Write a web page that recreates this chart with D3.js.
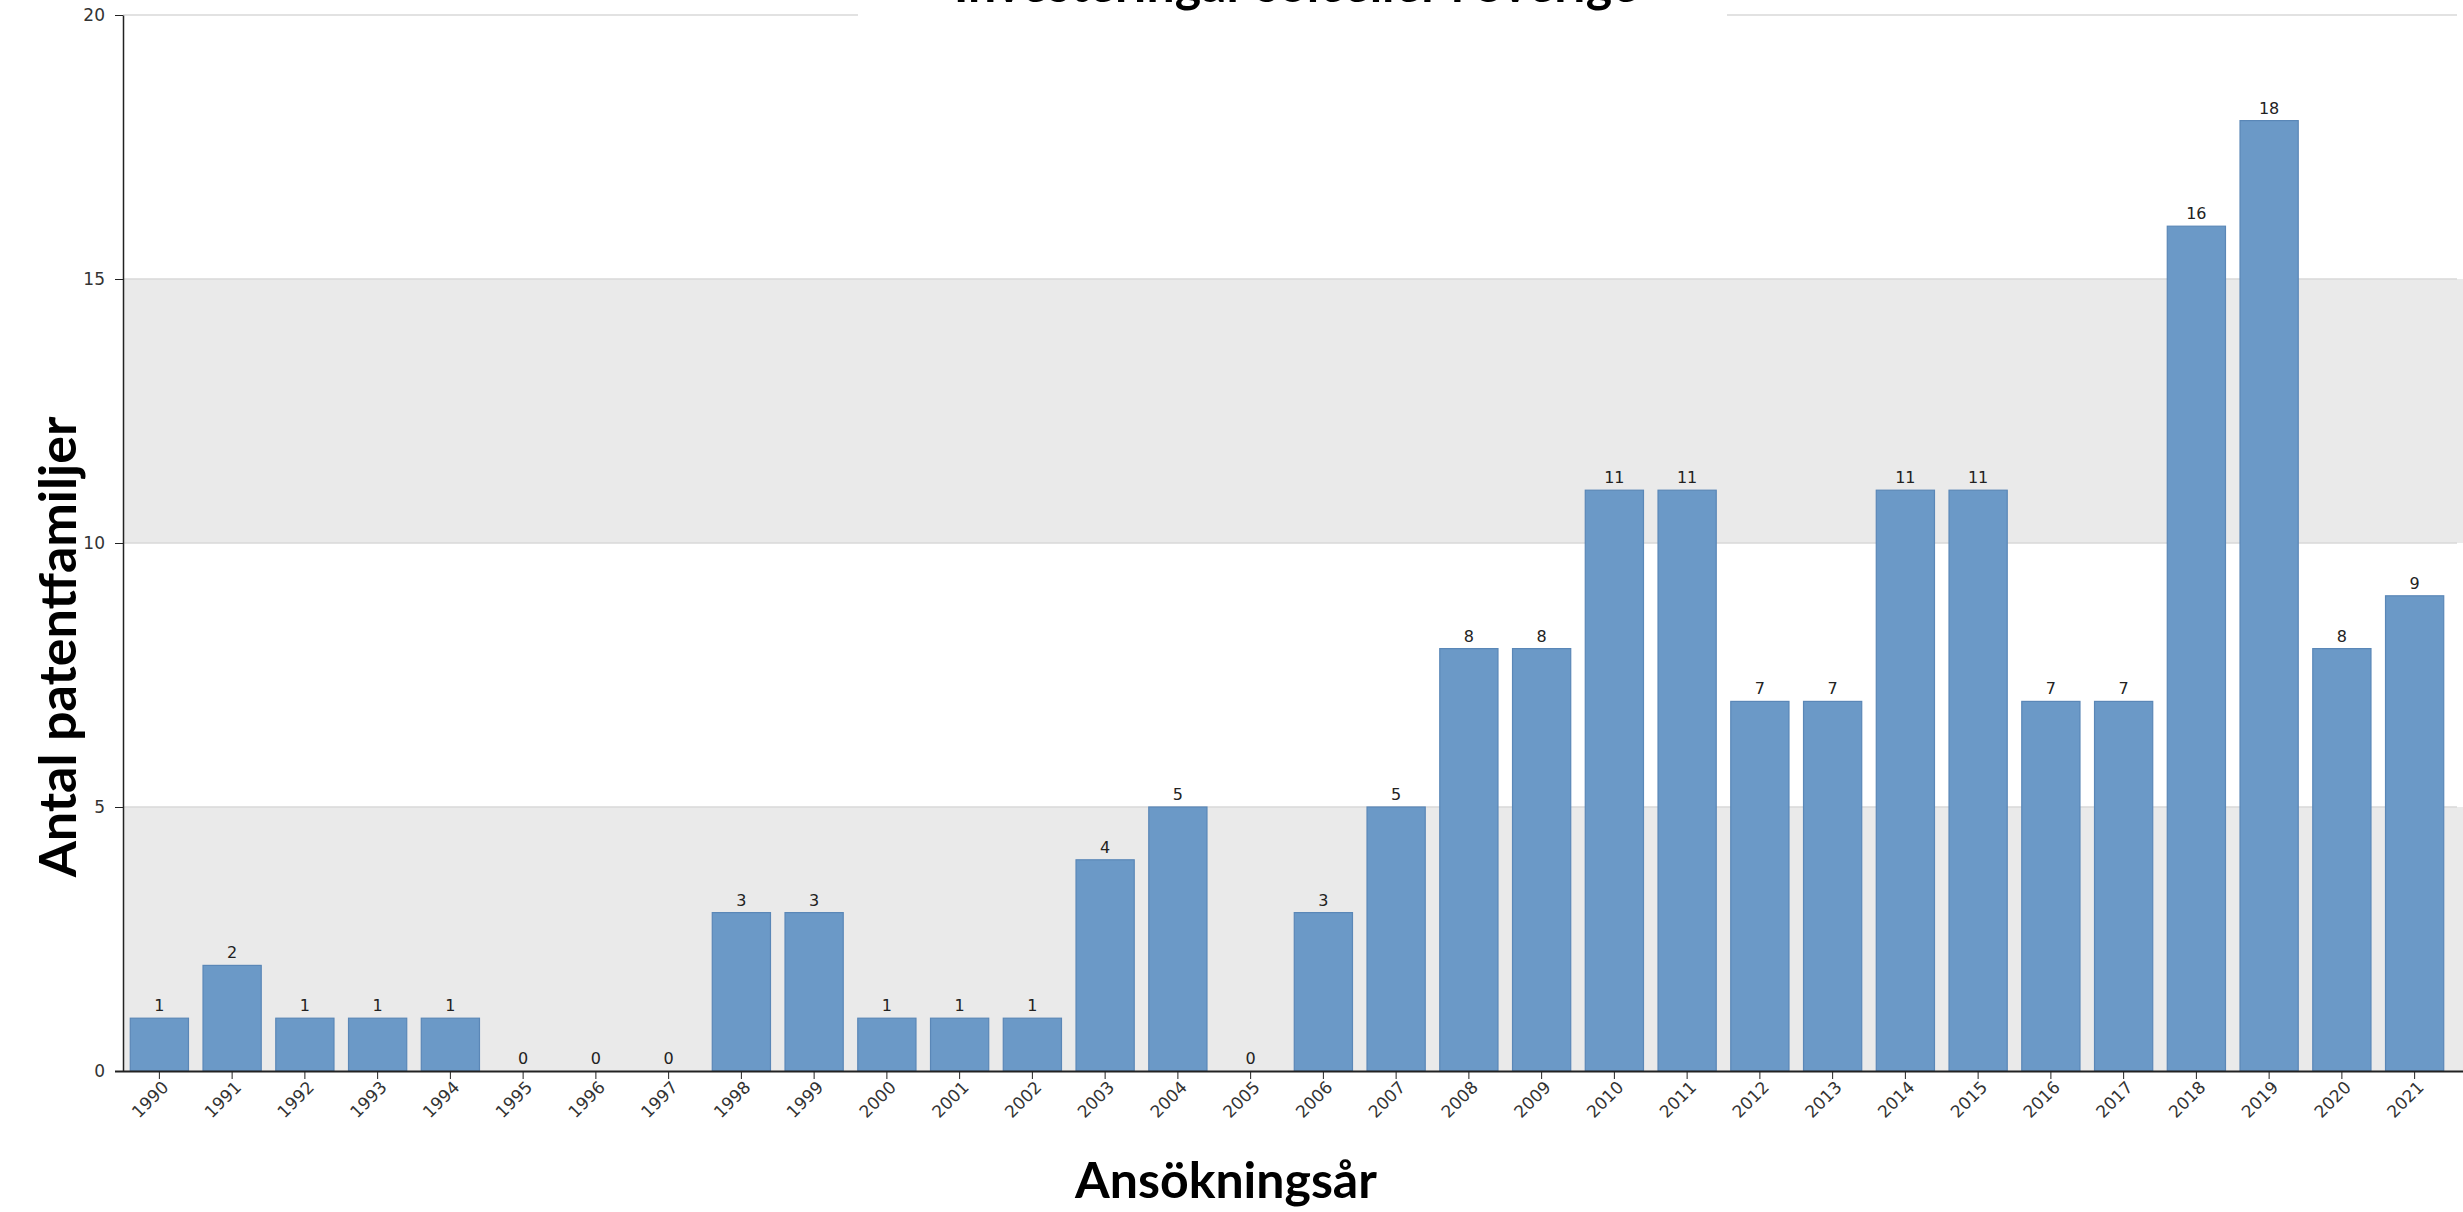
<!DOCTYPE html>
<html>
<head>
<meta charset="utf-8">
<script src="https://cdn.jsdelivr.net/npm/d3@7"></script>
<style>
  body { margin: 0; background: #fff; }
  .axis text { font-family: "DejaVu Sans", Verdana, sans-serif; font-size: 17px; fill: #333; }
  .axis path, .axis line { stroke: #222; }
  .title { font-family: Lato, sans-serif; font-weight: bold; font-size: 50px; fill: #000; }
  .val { font-family: "DejaVu Sans", Verdana, sans-serif; font-size: 16px; fill: #222; }
</style>
</head>
<body>
<div id="chart"></div>
<script>
(function() {
  var W = 2463, H = 1212;
  var margin = { top: 15, left: 123, right: 6, bottom: 141 },
    width = W - margin.left - margin.right,
    height = H - margin.top - margin.bottom;

  var years = ["1990","1991","1992","1993","1994","1995","1996","1997","1998","1999","2000","2001","2002","2003","2004","2005","2006","2007","2008","2009","2010","2011","2012","2013","2014","2015","2016","2017","2018","2019","2020","2021"];
  var counts = [1,2,1,1,1,0,0,0,3,3,1,1,1,4,5,0,3,5,8,8,11,11,7,7,11,11,7,7,16,18,8,9];
  var yTicks = [0,5,10,15,20];
  // alternating gray bands
  var bands = [[0,5],[10,15]];

  var svg = d3.select("#chart")
    .append("svg")
    .attr("width", W)
    .attr("height", H)
    .append("g")
    .attr("transform", "translate(" + margin.left + "," + margin.top + ")");

  var xPositionScale = d3.scaleBand().domain(years).range([0, width - 6]).paddingInner(0.2).paddingOuter(0.1);
  var yPositionScale = d3.scaleLinear().domain([0, 20]).range([height, 0]);

  svg.selectAll(".band")
    .data(bands)
    .enter().append("rect")
    .attr("class", "band")
    .attr("x", 0)
    .attr("width", width + margin.right)
    .attr("y", function(d) { return yPositionScale(d[1]) })
    .attr("height", function(d) { return yPositionScale(d[0]) - yPositionScale(d[1]) })
    .attr("fill", "#eaeaea");

  svg.selectAll(".grid")
    .data(yTicks.slice(1))
    .enter().append("line")
    .attr("class", "grid")
    .attr("x1", 0)
    .attr("x2", width)
    .attr("y1", function(d) { return yPositionScale(d) })
    .attr("y2", function(d) { return yPositionScale(d) })
    .attr("stroke", "#d8d8d8")
    .attr("stroke-width", 1.5);

  var data = years.map(function(y, i) { return { year: y, value: counts[i] } });

  svg.selectAll(".bar")
    .data(data)
    .enter().append("rect")
    .attr("class", "bar")
    .attr("x", function(d) { return xPositionScale(d.year) })
    .attr("width", xPositionScale.bandwidth())
    .attr("y", function(d) { return yPositionScale(d.value) })
    .attr("height", function(d) { return height - yPositionScale(d.value) })
    .attr("fill", "#6b99c7")
    .attr("stroke", "#5a87b7")
    .attr("stroke-width", 1.2);

  svg.selectAll(".val")
    .data(data)
    .enter().append("text")
    .attr("class", "val")
    .attr("text-anchor", "middle")
    .attr("x", function(d) { return xPositionScale(d.year) + xPositionScale.bandwidth() / 2 })
    .attr("y", function(d) { return yPositionScale(d.value) - 7 })
    .text(function(d) { return d.value });

  var xAxis = d3.axisBottom(xPositionScale).tickSize(8).tickSizeOuter(0);
  svg.append("g")
    .attr("class", "axis x-axis")
    .attr("transform", "translate(0," + height + ")")
    .call(xAxis)
    .selectAll("text")
    .attr("text-anchor", "end")
    .attr("dx", "-0.3em")
    .attr("dy", "0.5em")
    .attr("transform", "rotate(-45)");
  svg.select(".x-axis path").attr("d", "M-8,0.5H" + (width + margin.right)).attr("stroke-width", 2);

  var yAxis = d3.axisLeft(yPositionScale).tickValues(yTicks).tickSize(8).tickPadding(10).tickSizeOuter(0);
  svg.append("g")
    .attr("class", "axis y-axis")
    .call(yAxis)
    .select("path").attr("stroke-width", 1.5);

  // title, cut off by the top edge as in the original
  var root = d3.select("#chart svg");
  root.append("rect")
    .attr("x", 858).attr("y", 0).attr("width", 869).attr("height", 22)
    .attr("fill", "#fff");
  root.append("text")
    .attr("class", "title")
    .attr("x", 1296).attr("y", 2)
    .attr("text-anchor", "middle")
    .text("Investeringar solceller i Sverige");

  root.append("text")
    .attr("class", "title")
    .attr("x", 1226).attr("y", 1198)
    .attr("text-anchor", "middle")
    .text("Ansökningsår");

  root.append("text")
    .attr("class", "title")
    .style("font-size", "52px")
    .attr("transform", "translate(76,647) rotate(-90)")
    .attr("text-anchor", "middle")
    .text("Antal patentfamiljer");
})();
</script>
</body>
</html>
